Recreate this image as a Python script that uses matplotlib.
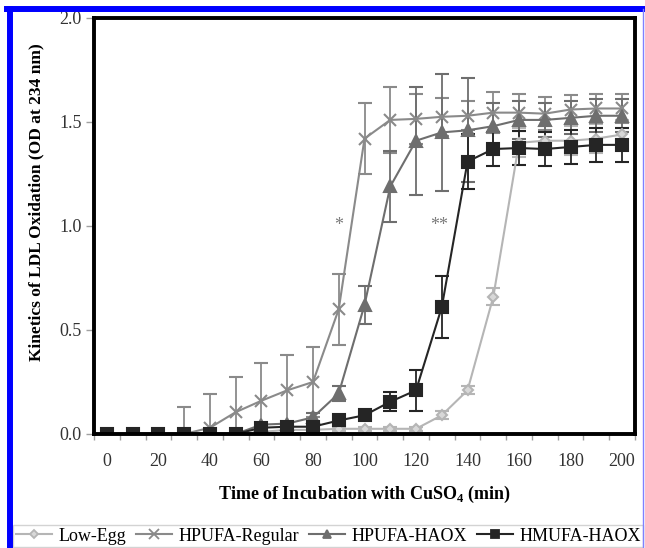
import matplotlib
matplotlib.use('Agg')
import matplotlib.pyplot as plt
from matplotlib.lines import Line2D

plt.rcParams['font.family'] = ['Liberation Serif', 'DejaVu Serif']

# incubation time (min)
time = [0, 10, 20, 30, 40, 50, 60, 70, 80, 90, 100,
        110, 120, 130, 140, 150, 160, 170, 180, 190, 200]

low_egg = [0, 0, 0, 0, 0, 0, 0.01, 0.02, 0.02, 0.025, 0.025,
           0.025, 0.025, 0.09, 0.21, 0.66, 1.40, 1.41, 1.41, 1.42, 1.44]
low_egg_err = [0, 0, 0, 0, 0, 0, 0.01, 0.01, 0.01, 0.01, 0.01,
               0.01, 0.01, 0.02, 0.02, 0.04, 0.07, 0.07, 0.07, 0.07, 0.07]

hpufa_reg = [0, 0, 0, 0, 0.03, 0.105, 0.16, 0.21, 0.25, 0.60, 1.42,
             1.51, 1.515, 1.525, 1.53, 1.545, 1.545, 1.54, 1.56, 1.565, 1.565]
hpufa_reg_err = [0, 0, 0, 0.13, 0.16, 0.17, 0.18, 0.17, 0.17, 0.17, 0.17,
                 0.16, 0.12, 0.09, 0.07, 0.10, 0.09, 0.08, 0.07, 0.07, 0.07]

hpufa_haox = [0, 0, 0, 0, 0, 0, 0.045, 0.05, 0.08, 0.195, 0.62,
              1.19, 1.41, 1.45, 1.46, 1.48, 1.51, 1.51, 1.52, 1.53, 1.53]
hpufa_haox_err = [0, 0, 0, 0, 0, 0, 0.01, 0.01, 0.02, 0.035, 0.09,
                  0.17, 0.26, 0.28, 0.25, 0.11, 0.09, 0.08, 0.08, 0.08, 0.08]

hmufa_haox = [0, 0, 0, 0, 0, 0, 0.03, 0.035, 0.035, 0.065, 0.09,
              0.155, 0.21, 0.61, 1.31, 1.37, 1.375, 1.37, 1.38, 1.39, 1.39]
hmufa_haox_err = [0, 0, 0, 0, 0, 0, 0.01, 0.01, 0.01, 0.01, 0.01,
                  0.045, 0.10, 0.15, 0.13, 0.08, 0.08, 0.08, 0.08, 0.08, 0.08]

x_ticklabels = [0, 20, 40, 60, 80, 100, 120, 140, 160, 180, 200]
y_ticks = [0.0, 0.5, 1.0, 1.5, 2.0]

fig = plt.figure(figsize=(6.45, 5.48), dpi=100)
ax = fig.add_axes([94/645, 1 - 434/548, (635-94)/645, (434-18)/548])

series = [
    ('Low-Egg', low_egg, low_egg_err, '#b5b5b5', 'D', 5, '#d8d8d8'),
    ('HPUFA-Regular', hpufa_reg, hpufa_reg_err, '#8a8a8a', 'x', 9, '#8a8a8a'),
    ('HPUFA-HAOX', hpufa_haox, hpufa_haox_err, '#6e6e6e', '^', 8, '#6e6e6e'),
    ('HMUFA-HAOX', hmufa_haox, hmufa_haox_err, '#252525', 's', 8, '#252525'),
]
handles = []
for label, y, err, c, m, ms, fc in series:
    ax.errorbar(time, y, yerr=err, color=c, lw=1.5, marker=m, ms=ms,
                mfc=fc, mec=c, mew=1.5, ecolor=c, elinewidth=1.3,
                capsize=5, capthick=1.3)
    handles.append(Line2D([], [], color=c, lw=1.5, marker=m, ms=ms * 0.8,
                          mfc=fc, mec=c, mew=1.3, label=label))

ax.text(90, 1.0, '*', color='#7a7a7a', fontsize=13, ha='center', va='center')
ax.text(129, 1.0, '**', color='#7a7a7a', fontsize=13, ha='center', va='center')

ax.set_xlim(-5, 205)
ax.set_ylim(0, 2.0)
ax.set_xticks(range(-5, 210, 10))
ax.set_xticklabels([])
ax.set_xticks(x_ticklabels, minor=True)
ax.set_xticklabels([str(v) for v in x_ticklabels], minor=True)
ax.tick_params(axis='x', which='major', direction='out', length=4, color='#a0a0a0', width=1)
ax.tick_params(axis='x', which='minor', length=0, pad=14, labelsize=13)
ax.set_yticks(y_ticks)
ax.set_yticklabels(['%.1f' % v for v in y_ticks])
ax.tick_params(axis='y', direction='out', length=6, color='#a0a0a0', width=1, pad=3, labelsize=13)
for t in ax.get_xticklabels(minor=True) + ax.get_yticklabels():
    t.set_color('#333333')
for s in ax.spines.values():
    s.set_linewidth(2.8)
    s.set_color('black')

ax.set_xlabel('Time of Incubation with CuSO$_\\mathregular{4}$ (min)', fontsize=13,
              fontweight='bold', labelpad=10)
ax.set_ylabel('Kinetics of LDL Oxidation (OD at 234 nm)', fontsize=12.5,
              fontweight='bold')
ax.yaxis.set_label_coords(-0.092, 0.558)

leg = fig.legend(handles=handles, loc='upper left', bbox_to_anchor=(13/645, 1 - 525/548),
                 ncol=4, fontsize=13, frameon=True, fancybox=False, edgecolor='#c8c8c8',
                 handlelength=2.0, handletextpad=0.35, columnspacing=0.55,
                 borderaxespad=0, borderpad=0.15)
leg.get_frame().set_linewidth(1)

# blue outer frame
fig.add_artist(Line2D([10/645, 10/645], [0, 1 - 9/548], color='#0000ff', lw=4.3, zorder=10))
fig.add_artist(Line2D([7/645, 645/645], [1 - 9/548, 1 - 9/548], color='#0000ff', lw=4.3, zorder=10))
fig.add_artist(Line2D([643/645, 643/645], [0, 1 - 9/548], color='#8080ff', lw=1, zorder=10))

fig.savefig('out.png', dpi=100)
